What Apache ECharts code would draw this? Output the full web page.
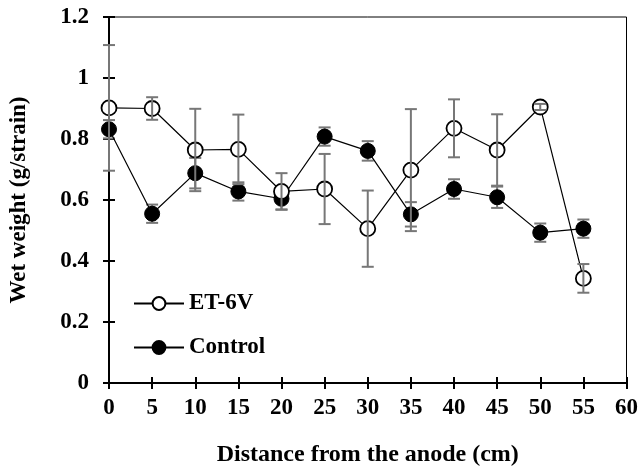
<!DOCTYPE html>
<html><head><meta charset="utf-8">
<script src="https://cdn.jsdelivr.net/npm/echarts@6/dist/echarts.min.js"></script>
<style>html,body{margin:0;padding:0;background:#fff}#c{width:641px;height:472px}</style>
</head><body><div id="c"></div>
<script>
const distances = [0,5,10,15,20,25,30,35,40,45,50,55];
const et6v = [0.902,0.900,0.764,0.766,0.628,0.636,0.506,0.698,0.835,0.764,0.905,0.343];
const et6vErr = [0.206,0.037,0.135,0.114,0.060,0.115,0.125,0.200,0.095,0.117,0.010,0.047];
const control = [0.832,0.555,0.688,0.628,0.604,0.808,0.761,0.553,0.636,0.609,0.493,0.506];
const controlErr = [0.030,0.030,0.050,0.030,0.035,0.030,0.032,0.040,0.032,0.035,0.030,0.030];
const xTicks = [0,5,10,15,20,25,30,35,40,45,50,55,60];
const yTicks = [0,0.2,0.4,0.6,0.8,1,1.2];

const font = '"Liberation Serif","Times New Roman",serif';
const chart = echarts.init(document.getElementById('c'));

function errData(vals, errs){
  return distances.map((d,i)=>[d, vals[i]-errs[i], vals[i]+errs[i]]);
}
function errRender(params, api){
  const x = api.value(0);
  const lo = api.coord([x, api.value(1)]);
  const hi = api.coord([x, api.value(2)]);
  const w = 6;
  const st = {stroke:'#777', lineWidth:2};
  return {type:'group', children:[
    {type:'line', shape:{x1:lo[0],y1:lo[1],x2:hi[0],y2:hi[1]}, style:st},
    {type:'line', shape:{x1:lo[0]-w,y1:lo[1],x2:lo[0]+w,y2:lo[1]}, style:st},
    {type:'line', shape:{x1:hi[0]-w,y1:hi[1],x2:hi[0]+w,y2:hi[1]}, style:st}
  ]};
}
const axisLab = {fontFamily:font, fontWeight:'bold', fontSize:23, color:'#000'};
const xAx = (inside, extra) => Object.assign({
  type:'value', min:0, max:60, interval:5, position:'bottom',
  axisLine:{show:true, lineStyle:{color:'#000', width:2}},
  axisTick:{show:true, inside:inside, length:6, lineStyle:{color:'#000', width:2}},
  splitLine:{show:false}
}, extra);
const yAx = (inside, extra) => Object.assign({
  type:'value', min:0, max:1.2, interval:0.2, position:'left',
  axisLine:{show:true, lineStyle:{color:'#000', width:2}},
  axisTick:{show:true, inside:inside, length:6, lineStyle:{color:'#000', width:2}},
  splitLine:{show:false}
}, extra);

chart.setOption({
  animation:false,
  backgroundColor:'#fff',
  grid:{left:109, right:12, top:17, bottom:86, show:true, borderColor:'#000', borderWidth:1},
  xAxis:[
    xAx(false, {name:'Distance from the anode (cm)', nameLocation:'middle', nameGap:60,
      nameTextStyle:{fontFamily:font, fontWeight:'bold', fontSize:24, color:'#000'},
      axisLabel:Object.assign({margin:14, customValues:xTicks}, axisLab)}),
    xAx(true, {axisLabel:{show:false}})
  ],
  yAxis:[
    yAx(false, {name:'Wet weight (g/strain)', nameLocation:'middle', nameGap:78,
      nameTextStyle:{fontFamily:font, fontWeight:'bold', fontSize:23, color:'#000'},
      axisLabel:Object.assign({margin:20, formatter:v=>String(+v.toFixed(1))}, axisLab)}),
    yAx(true, {axisLabel:{show:false}})
  ],
  legend:{
    data:['ET-6V','Control'], orient:'vertical', left:128, top:287, itemGap:21,
    itemWidth:50, itemHeight:16,
    textStyle:{fontFamily:font, fontWeight:'bold', fontSize:23, color:'#000'}
  },
  series:[
    {type:'custom', name:'ctlErr', renderItem:errRender, data:errData(control, controlErr), z:1, silent:true},
    {type:'line', name:'Control', data:distances.map((d,i)=>[d,control[i]]), z:2,
      symbol:'circle', symbolSize:15,
      itemStyle:{color:'#000', borderColor:'#000', borderWidth:1},
      lineStyle:{color:'#000', width:1.2}},
    {type:'line', name:'ET-6V', data:distances.map((d,i)=>[d,et6v[i]]), z:3,
      symbol:'circle', symbolSize:15,
      itemStyle:{color:'#fff', borderColor:'#000', borderWidth:1.8},
      lineStyle:{color:'#000', width:1.2}},
    {type:'custom', name:'etErr', renderItem:errRender, data:errData(et6v, et6vErr), z:4, silent:true}
  ]
});
</script></body></html>
